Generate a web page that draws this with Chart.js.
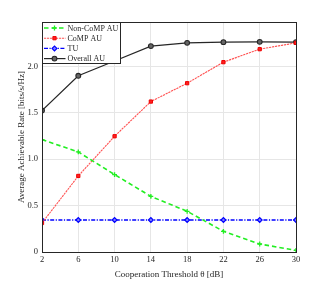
<!DOCTYPE html>
<html>
<head>
<meta charset="utf-8">
<script src="https://cdn.jsdelivr.net/npm/chart.js@4/dist/chart.umd.min.js"></script>
<style>
html,body{margin:0;padding:0;background:#fff;}
canvas{display:block;}
</style>
</head>
<body>
<canvas id="c" width="322" height="284"></canvas>
<script>
const thresholds = [2, 6, 10, 14, 18, 22, 26, 30];
const nonCompAU = [1.212, 1.079, 0.835, 0.600, 0.439, 0.223, 0.086, 0.018];
const compAU = [0.313, 0.820, 1.248, 1.622, 1.820, 2.047, 2.187, 2.255];
const tuRate = [0.345, 0.345, 0.345, 0.345, 0.345, 0.345, 0.345, 0.345];
const overallAU = [1.525, 1.900, 2.060, 2.220, 2.255, 2.263, 2.266, 2.263];
const seriesNames = ['Non-CoMP AU', 'CoMP AU', 'TU', 'Overall AU'];
const xTicks = [2, 6, 10, 14, 18, 22, 26, 30];
const yTicks = [0, 0.5, 1, 1.5, 2];

const FONT = "'Liberation Serif', 'DejaVu Serif', serif";
const pts = ys => thresholds.map((x, i) => ({x: x, y: ys[i]}));

const datasets = [
  {label: seriesNames[0], data: pts(nonCompAU), borderColor: '#22ee22', backgroundColor: '#22ee22',
   borderDash: [4.5, 3], borderWidth: 1.6, pointStyle: 'cross', pointRadius: 2.4, pointBorderWidth: 1.3,
   pointBorderColor: '#22ee22'},
  {label: seriesNames[1], data: pts(compAU), borderColor: '#ff5050', backgroundColor: '#ff0000',
   borderDash: [2.2, 0.8], borderWidth: 1.1, pointStyle: 'rect', pointRadius: 2.3, pointBorderWidth: 1,
   pointBorderColor: '#ee0000', pointBackgroundColor: '#ff2020'},
  {label: seriesNames[2], data: pts(tuRate), borderColor: '#0000ff', backgroundColor: '#ffffff',
   borderDash: [4, 1.5, 1.2, 1.5], borderWidth: 1.4, pointStyle: 'rectRot', pointRadius: 2.4, pointBorderWidth: 1.2,
   pointBorderColor: '#0000ff', pointBackgroundColor: '#8080ff'},
  {label: seriesNames[3], data: pts(overallAU), borderColor: '#262626', backgroundColor: '#666666',
   borderWidth: 1.2, pointStyle: 'circle', pointRadius: 2.4, pointBorderWidth: 1.1,
   pointBorderColor: '#262626', pointBackgroundColor: '#666666'}
];

const boxPlugin = {
  id: 'box',
  afterDatasetsDraw(chart) {
    const {ctx, chartArea: a} = chart;
    ctx.save();
    ctx.strokeStyle = '#262626';
    ctx.lineWidth = 1;
    ctx.strokeRect(Math.round(a.left) + 0.5, Math.round(a.top) + 0.5,
                   Math.round(a.right - a.left), Math.round(a.bottom - a.top));
    ctx.restore();
  }
};

const legendPlugin = {
  id: 'innerLegend',
  afterDraw(chart) {
    const {ctx, chartArea: a} = chart;
    const x0 = Math.round(a.left) + 0.5, y0 = Math.round(a.top) + 0.5;
    const w = 78, rowH = 10.2, h = 41;
    ctx.save();
    ctx.fillStyle = '#ffffff';
    ctx.fillRect(x0, y0, w, h);
    ctx.strokeStyle = '#262626';
    ctx.lineWidth = 1;
    ctx.strokeRect(x0, y0, w, h);
    ctx.font = '8px ' + FONT;
    ctx.textBaseline = 'middle';
    chart.data.datasets.forEach((ds, i) => {
      const y = y0 + 5.5 + i * rowH;
      ctx.strokeStyle = ds.borderColor;
      ctx.lineWidth = ds.borderWidth;
      ctx.setLineDash(ds.borderDash || []);
      ctx.beginPath();
      ctx.moveTo(x0 + 1.5, y);
      ctx.lineTo(x0 + 23, y);
      ctx.stroke();
      ctx.setLineDash([]);
      ctx.strokeStyle = ds.pointBorderColor;
      ctx.fillStyle = ds.pointBackgroundColor || ds.backgroundColor;
      ctx.lineWidth = ds.pointBorderWidth;
      Chart.helpers.drawPoint(ctx, {pointStyle: ds.pointStyle, radius: ds.pointRadius, rotation: 0,
        borderWidth: ds.pointBorderWidth}, x0 + 12, y);
      ctx.fillStyle = '#262626';
      ctx.fillText(ds.label, x0 + 25, y + 0.5);
    });
    ctx.restore();
  }
};

new Chart(document.getElementById('c'), {
  type: 'line',
  data: {datasets: datasets},
  options: {
    responsive: false,
    animation: false,
    layout: {padding: {left: 16, right: 26, top: 22, bottom: 4}},
    plugins: {legend: {display: false}, tooltip: {enabled: false}},
    scales: {
      x: {
        type: 'linear', min: 2, max: 30,
        afterBuildTicks: s => { s.ticks = xTicks.map(v => ({value: v})); },
        ticks: {font: {family: FONT, size: 8.5}, color: '#262626', padding: 3, maxRotation: 0},
        grid: {color: '#e6e6e6', drawTicks: false},
        border: {color: '#262626'},
        title: {display: true, text: 'Cooperation Threshold θ [dB]', font: {family: FONT, size: 9},
                color: '#262626', padding: {top: 1, bottom: 0}},
        afterFit: s => { s.height = 28; }
      },
      y: {
        min: 0, max: 2.48,
        afterBuildTicks: s => { s.ticks = yTicks.map(v => ({value: v})); },
        ticks: {font: {family: FONT, size: 8.5}, color: '#262626', padding: 4},
        grid: {color: '#e6e6e6', drawTicks: false},
        border: {color: '#262626'},
        title: {display: true, text: 'Average Achievable Rate [bits/s/Hz]', font: {family: FONT, size: 9},
                color: '#262626', padding: 0},
        afterFit: s => { s.width = 26; }
      }
    }
  },
  plugins: [boxPlugin, legendPlugin]
});
</script>
</body>
</html>
